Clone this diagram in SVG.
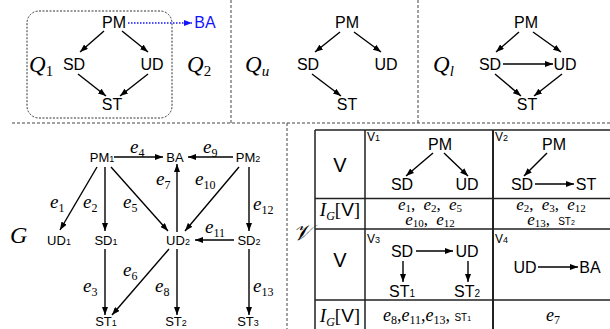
<svg xmlns="http://www.w3.org/2000/svg" width="610" height="329" viewBox="0 0 610 329">
<style>
.s{font-family:"Liberation Sans",Arial,sans-serif;fill:#000;text-anchor:middle}
.t16{font-size:16px}
.t13{font-size:13px}
.m{font-family:"Liberation Serif","Times New Roman",serif;font-style:italic;fill:#000}
.el{font-size:19px}
.sb{font-size:12px;font-style:normal}
.sc{font-size:11px;font-style:normal}
.up{font-style:normal}
.sn{font-family:"Liberation Sans",Arial,sans-serif;font-style:normal}
.e{stroke:#000;stroke-width:1.4;fill:none;marker-end:url(#ah)}
.sep{stroke:#444;stroke-width:1;stroke-dasharray:3 2;fill:none}
.grid{stroke:#222;stroke-width:1.5;fill:none}
</style>
<defs>
<marker id="ah" viewBox="0 0 8 6" refX="8" refY="3" markerWidth="8" markerHeight="6" markerUnits="userSpaceOnUse" orient="auto"><path d="M0,0L8,3L0,6z" fill="#000"/></marker>
<marker id="ahb" viewBox="0 0 8 6" refX="8" refY="3" markerWidth="8" markerHeight="6" markerUnits="userSpaceOnUse" orient="auto"><path d="M0,0L8,3L0,6z" fill="#1414ff"/></marker>
</defs>
<rect width="610" height="329" fill="#fff"/>

<!-- separators -->
<g id="separators">
<path class="sep" d="M12,123H610M231,0V123M418,0V123M287,123V329"/>
<rect x="27" y="11" width="145" height="107" rx="12" fill="none" stroke="#333" stroke-width="1" stroke-dasharray="2 1.5"/>
</g>

<!-- panel Q1/Q2 -->
<g id="q1-labels">
<text class="m" x="29" y="72" font-size="23">Q<tspan class="up" font-size="15" dy="4">1</tspan></text>
<text class="m" x="187" y="72" font-size="23">Q<tspan class="up" font-size="15" dy="4">2</tspan></text>
</g>
<g id="q1-pm"><text class="s t16" x="114" y="28">PM</text></g>
<g id="q1-ba"><text class="s t16" x="205" y="28" style="fill:#1414ff">BA</text></g>
<g id="q1-sd"><text class="s t16" x="74" y="70">SD</text></g>
<g id="q1-ud"><text class="s t16" x="152" y="70">UD</text></g>
<g id="q1-st"><text class="s t16" x="112" y="110">ST</text></g>

<!-- panel Qu -->
<g id="qu-label"><text class="m" x="245" y="72" font-size="23">Q<tspan font-size="15" dy="4">u</tspan></text></g>
<g id="qu-pm"><text class="s t16" x="347" y="28">PM</text></g>
<g id="qu-sd"><text class="s t16" x="308" y="70">SD</text></g>
<g id="qu-ud"><text class="s t16" x="386" y="70">UD</text></g>
<g id="qu-st"><text class="s t16" x="347" y="110">ST</text></g>

<!-- panel Ql -->
<g id="ql-label"><text class="m" x="433" y="72" font-size="23">Q<tspan font-size="15" dy="4">l</tspan></text></g>
<g id="ql-pm"><text class="s t16" x="526" y="28">PM</text></g>
<g id="ql-sd"><text class="s t16" x="490" y="70">SD</text></g>
<g id="ql-ud"><text class="s t16" x="565" y="70">UD</text></g>
<g id="ql-st"><text class="s t16" x="527" y="110">ST</text></g>

<!-- graph G -->
<g id="g-label"><text class="m" x="10" y="243" font-size="24">G</text></g>
<g id="g-pm1"><text class="s t13" x="102" y="162">PM<tspan font-size="9">1</tspan></text></g>
<g id="g-ba"><text class="s t13" x="175" y="162">BA</text></g>
<g id="g-pm2"><text class="s t13" x="248" y="162">PM<tspan font-size="9">2</tspan></text></g>
<g id="g-ud1"><text class="s t13" x="59" y="245">UD<tspan font-size="9">1</tspan></text></g>
<g id="g-sd1"><text class="s t13" x="106" y="245">SD<tspan font-size="9">1</tspan></text></g>
<g id="g-ud2"><text class="s t13" x="178" y="245">UD<tspan font-size="9">2</tspan></text></g>
<g id="g-sd2"><text class="s t13" x="249" y="245">SD<tspan font-size="9">2</tspan></text></g>
<g id="g-st1"><text class="s t13" x="106" y="326">ST<tspan font-size="9">1</tspan></text></g>
<g id="g-st2"><text class="s t13" x="176" y="326">ST<tspan font-size="9">2</tspan></text></g>
<g id="g-st3"><text class="s t13" x="248" y="326">ST<tspan font-size="9">3</tspan></text></g>

<g id="edge-labels">
<text class="m el" x="130" y="153">e<tspan class="sb" dy="4">4</tspan></text>
<text class="m el" x="203" y="153">e<tspan class="sb" dy="4">9</tspan></text>
<text class="m el" x="156" y="185">e<tspan class="sb" dy="4">7</tspan></text>
<text class="m el" x="195" y="185">e<tspan class="sb" dy="4">10</tspan></text>
<text class="m el" x="50" y="208">e<tspan class="sb" dy="4">1</tspan></text>
<text class="m el" x="83" y="208">e<tspan class="sb" dy="4">2</tspan></text>
<text class="m el" x="123" y="208">e<tspan class="sb" dy="4">5</tspan></text>
<text class="m el" x="253" y="210">e<tspan class="sb" dy="4">12</tspan></text>
<text class="m el" x="205" y="233">e<tspan class="sb" dy="4">11</tspan></text>
<text class="m el" x="123" y="276">e<tspan class="sb" dy="4">6</tspan></text>
<text class="m el" x="83" y="292">e<tspan class="sb" dy="4">3</tspan></text>
<text class="m el" x="155" y="292">e<tspan class="sb" dy="4">8</tspan></text>
<text class="m el" x="253" y="292">e<tspan class="sb" dy="4">13</tspan></text>
</g>

<!-- table -->
<g id="v-label"><text class="m" x="293" y="240" font-size="22">𝒱</text></g>
<g id="table-grid">
<path class="grid" d="M315,130H612M315,130V329M365,130V329M315,198.5H612M315,229H612M315,300H612"/>
<path stroke="#222" stroke-width="2" d="M493,130V329"/>
</g>
<g id="table-left">
<text class="s" x="340" y="172" font-size="20">V</text>
<text class="s" x="340" y="267" font-size="20">V</text>
<text class="m" x="340" y="216" font-size="19" text-anchor="middle">I<tspan font-size="12" dy="4">G</tspan><tspan class="up" dy="-4">[</tspan><tspan class="sn">V</tspan><tspan class="up">]</tspan></text>
<text class="m" x="340" y="322" font-size="19" text-anchor="middle">I<tspan font-size="12" dy="4">G</tspan><tspan class="up" dy="-4">[</tspan><tspan class="sn">V</tspan><tspan class="up">]</tspan></text>
</g>
<g id="v1">
<text class="s" x="367" y="141" font-size="12" style="text-anchor:start">V<tspan font-size="9">1</tspan></text>
<text class="s t16" x="440" y="150">PM</text>
<text class="s t16" x="402" y="190">SD</text>
<text class="s t16" x="467" y="190">UD</text>
</g>
<g id="v2">
<text class="s" x="495" y="141" font-size="12" style="text-anchor:start">V<tspan font-size="9">2</tspan></text>
<text class="s t16" x="554" y="150">PM</text>
<text class="s t16" x="522" y="190">SD</text>
<text class="s t16" x="586" y="190">ST</text>
</g>
<g id="v3">
<text class="s" x="367" y="243" font-size="12" style="text-anchor:start">V<tspan font-size="9">3</tspan></text>
<text class="s t16" x="402" y="257">SD</text>
<text class="s t16" x="467" y="257">UD</text>
<text class="s t16" x="402" y="297">ST<tspan font-size="10">1</tspan></text>
<text class="s t16" x="467" y="297">ST<tspan font-size="10">2</tspan></text>
</g>
<g id="v4">
<text class="s" x="495" y="243" font-size="12" style="text-anchor:start">V<tspan font-size="9">4</tspan></text>
<text class="s t16" x="525" y="273">UD</text>
<text class="s t16" x="590" y="273">BA</text>
</g>
<g id="ig-values">
<text class="m" x="430" y="210" font-size="17" text-anchor="middle" word-spacing="4">e<tspan class="sc" dy="2">1</tspan><tspan class="up" dy="-2">, </tspan><tspan>e</tspan><tspan class="sc" dy="2">2</tspan><tspan class="up" dy="-2">, </tspan><tspan>e</tspan><tspan class="sc" dy="2">5</tspan></text>
<text class="m" x="430" y="225" font-size="17" text-anchor="middle" word-spacing="4">e<tspan class="sc" dy="2">10</tspan><tspan class="up" dy="-2">, </tspan><tspan>e</tspan><tspan class="sc" dy="2">12</tspan></text>
<text class="m" x="551" y="210" font-size="17" text-anchor="middle" word-spacing="4">e<tspan class="sc" dy="2">2</tspan><tspan class="up" dy="-2">, </tspan><tspan>e</tspan><tspan class="sc" dy="2">3</tspan><tspan class="up" dy="-2">, </tspan><tspan>e</tspan><tspan class="sc" dy="2">12</tspan></text>
<text class="m" x="551" y="225" font-size="17" text-anchor="middle" word-spacing="4">e<tspan class="sc" dy="2">13</tspan><tspan class="up" dy="-2">, </tspan><tspan class="sn" font-size="10">ST</tspan><tspan class="sn" font-size="7">2</tspan></text>
<text class="m" x="427" y="321" font-size="18" text-anchor="middle">e<tspan class="sb" dy="3">8</tspan><tspan class="up" dy="-3">,</tspan><tspan>e</tspan><tspan class="sb" dy="3">11</tspan><tspan class="up" dy="-3">,</tspan><tspan>e</tspan><tspan class="sb" dy="3">13</tspan><tspan class="up" dy="-3">, </tspan><tspan class="sn" font-size="10">ST</tspan><tspan class="sn" font-size="7">1</tspan></text>
<text class="m" x="553" y="321" font-size="18" text-anchor="middle">e<tspan class="sb" dy="3">7</tspan></text>
</g>

<!-- connectors -->
<g id="connectors">
<path d="M128,23H192" stroke="#1414ff" stroke-width="1.5" stroke-dasharray="1.5 1.5" fill="none" marker-end="url(#ahb)"/>
<path class="e" d="M104,31L80,52"/>
<path class="e" d="M122,31L148,52"/>
<path class="e" d="M78,74L106,96"/>
<path class="e" d="M148,74L120,96"/>

<path class="e" d="M340,32L315,52"/>
<path class="e" d="M354,32L381,52"/>
<path class="e" d="M312,74L341,96"/>

<path class="e" d="M519,32L496,52"/>
<path class="e" d="M533,32L561,52"/>
<path class="e" d="M503,64H553"/>
<path class="e" d="M495,74L521,96"/>
<path class="e" d="M562,74L534,96"/>

<path class="e" d="M114,157H163"/>
<path class="e" d="M233,157H188"/>
<path class="e" d="M97,167L60,230"/>
<path class="e" d="M105,167V231"/>
<path class="e" d="M111,167L168,231"/>
<path class="e" d="M177,232V164"/>
<path class="e" d="M239,167L185,231"/>
<path class="e" d="M249,167V231"/>
<path class="e" d="M234,240H195"/>
<path class="e" d="M105,249V315"/>
<path class="e" d="M169,249L112,315"/>
<path class="e" d="M177,249V315"/>
<path class="e" d="M249,249V315"/>

<path class="e" d="M433,153L406,176"/>
<path class="e" d="M444,153L468,176"/>
<path class="e" d="M547,153L524,176"/>
<path class="e" d="M535,184H574"/>
<path class="e" d="M416,251H453"/>
<path class="e" d="M403,261V282"/>
<path class="e" d="M468,261V282"/>
<path class="e" d="M538,267H578"/>
</g>
</svg>
